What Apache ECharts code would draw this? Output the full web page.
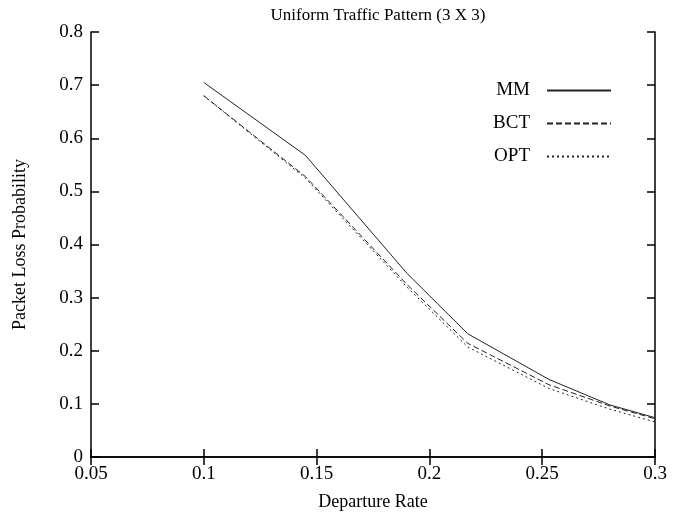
<!DOCTYPE html>
<html lang="en">
<head>
  <meta charset="UTF-8">
  <title>Uniform Traffic Pattern (3 X 3)</title>
  <style>
    html, body { margin: 0; padding: 0; background: #fff; }
  </style>
</head>
<body>
  <div id="echart" style="width:695px;height:516px"></div>
  <script src="https://cdn.jsdelivr.net/npm/echarts@6/dist/echarts.min.js"></script>
  <script>
    var departureRate = [0.1, 0.145, 0.19, 0.217, 0.253, 0.28, 0.3];
    var mm = [0.705, 0.568, 0.346, 0.232, 0.146, 0.098, 0.074];
    var bct = [0.68, 0.528, 0.325, 0.214, 0.136, 0.096, 0.072];
    var opt = [0.68, 0.525, 0.32, 0.207, 0.129, 0.09, 0.066];
    var xTicks = [0.05, 0.1, 0.15, 0.2, 0.25, 0.3];
    var yTicks = [0, 0.1, 0.2, 0.3, 0.4, 0.5, 0.6, 0.7, 0.8];

    var font = 'Liberation Serif';
    var myChart = echarts.init(document.querySelector('#echart'));

    function pairs(ys) {
      return departureRate.map(function (x, i) { return [x, ys[i]]; });
    }

    function lineSeries(name, ys, dash) {
      return {
        name: name,
        type: 'line',
        data: pairs(ys),
        symbol: 'none',
        animation: false,
        lineStyle: { color: '#222', width: 1, type: dash }
      };
    }

    var axisCommon = {
      axisLine: { show: true, lineStyle: { color: '#000', width: 1.5 } },
      axisTick: { show: true, inside: true, length: 8, lineStyle: { color: '#000', width: 1.5 } },
      splitLine: { show: false }
    };

    var option = {
      backgroundColor: '#fff',
      title: {
        text: 'Uniform Traffic Pattern (3 X 3)',
        left: 373,
        textAlign: 'center',
        top: 2,
        textStyle: { fontFamily: font, fontSize: 17, fontWeight: 'normal', color: '#000' }
      },
      grid: { left: 91, right: 40, top: 32, bottom: 59 },
      legend: {
        orient: 'vertical',
        right: 78,
        top: 76,
        align: 'right',
        itemWidth: 64,
        itemHeight: 12,
        itemGap: 14,
        itemStyle: { opacity: 0 },
        textStyle: { fontFamily: font, fontSize: 19, color: '#000', padding: [0, 12, 0, 0] },
        data: ['MM', 'BCT', 'OPT']
      },
      xAxis: [
        Object.assign({
          type: 'value',
          min: 0.05,
          max: 0.3,
          interval: 0.05,
          name: 'Departure Rate',
          nameLocation: 'middle',
          nameGap: 36,
          nameTextStyle: { fontFamily: font, fontSize: 18, color: '#000' },
          axisLabel: {
            fontFamily: font, fontSize: 19, color: '#000', margin: 8,
            formatter: function (v) { return String(+v.toFixed(2)); }
          }
        }, axisCommon),
        Object.assign({
          type: 'value', position: 'top', min: 0.05, max: 0.3, interval: 0.05,
          axisLabel: { show: false }
        }, axisCommon)
      ],
      yAxis: [
        Object.assign({
          type: 'value',
          min: 0,
          max: 0.8,
          interval: 0.1,
          name: 'Packet Loss Probability',
          nameLocation: 'middle',
          nameGap: 62,
          nameTextStyle: { fontFamily: font, fontSize: 18, color: '#000' },
          axisLabel: {
            fontFamily: font, fontSize: 19, color: '#000', margin: 8,
            formatter: function (v) { return String(+v.toFixed(1)); }
          }
        }, axisCommon),
        Object.assign({
          type: 'value', position: 'right', min: 0, max: 0.8, interval: 0.1,
          axisLabel: { show: false }
        }, axisCommon)
      ],
      series: [
        lineSeries('MM', mm, 'solid'),
        lineSeries('BCT', bct, [6, 3]),
        lineSeries('OPT', opt, [2, 3])
      ]
    };
    myChart.setOption(option);
  </script>
</body>
</html>
